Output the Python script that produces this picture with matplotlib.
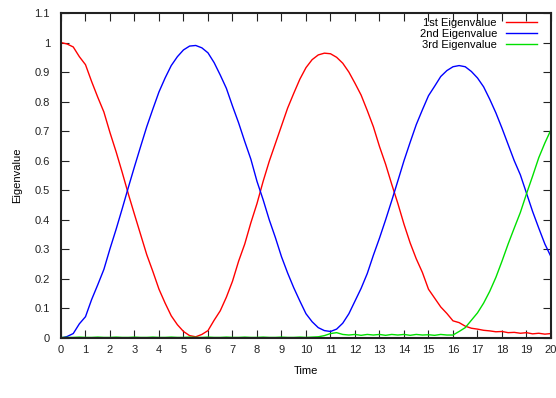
import matplotlib
matplotlib.use("Agg")
import matplotlib.pyplot as plt
import numpy as np

plt.rcParams['font.family'] = ['Liberation Sans', 'DejaVu Sans']

# sample times, 0.25 apart
time = np.arange(0, 20.01, 0.25)

ev1 = [1.000, 0.995, 0.985, 0.952, 0.925, 0.868, 0.815, 0.765, 0.695, 0.630,
       0.560, 0.487, 0.418, 0.350, 0.282, 0.225, 0.165, 0.118, 0.075, 0.045,
       0.022, 0.008, 0.004, 0.012, 0.025, 0.060, 0.092, 0.138, 0.192, 0.260,
       0.318, 0.390, 0.455, 0.530, 0.598, 0.658, 0.718, 0.778, 0.828, 0.876,
       0.915, 0.942, 0.958, 0.964, 0.962, 0.950, 0.930, 0.900, 0.862, 0.822,
       0.770, 0.715, 0.648, 0.588, 0.520, 0.455, 0.385, 0.322, 0.268, 0.222,
       0.165, 0.135, 0.105, 0.083, 0.058, 0.052, 0.040, 0.033, 0.030, 0.026,
       0.024, 0.021, 0.022, 0.018, 0.019, 0.016, 0.018, 0.014, 0.016, 0.013,
       0.015]

ev2 = [0.000, 0.005, 0.015, 0.048, 0.072, 0.130, 0.180, 0.232, 0.302, 0.368,
       0.438, 0.510, 0.580, 0.648, 0.715, 0.775, 0.833, 0.880, 0.922, 0.952,
       0.975, 0.988, 0.990, 0.982, 0.965, 0.932, 0.890, 0.845, 0.785, 0.728,
       0.665, 0.605, 0.530, 0.468, 0.400, 0.340, 0.275, 0.220, 0.170, 0.125,
       0.082, 0.055, 0.035, 0.025, 0.022, 0.030, 0.050, 0.082, 0.125, 0.168,
       0.218, 0.280, 0.338, 0.400, 0.465, 0.532, 0.600, 0.662, 0.722, 0.772,
       0.820, 0.852, 0.885, 0.905, 0.918, 0.922, 0.918, 0.902, 0.880, 0.850,
       0.808, 0.762, 0.710, 0.655, 0.600, 0.552, 0.490, 0.428, 0.372, 0.318,
       0.275]

ev3 = [0.002, 0.002, 0.002, 0.003, 0.002, 0.002, 0.003, 0.002, 0.002, 0.003,
       0.002, 0.002, 0.003, 0.002, 0.002, 0.003, 0.002, 0.002, 0.003, 0.002,
       0.002, 0.003, 0.002, 0.002, 0.003, 0.002, 0.002, 0.003, 0.002, 0.002,
       0.003, 0.002, 0.002, 0.003, 0.002, 0.002, 0.003, 0.002, 0.002, 0.003,
       0.002, 0.003, 0.004, 0.008, 0.015, 0.018, 0.012, 0.010, 0.012, 0.009,
       0.012, 0.010, 0.012, 0.009, 0.012, 0.010, 0.012, 0.009, 0.012, 0.010,
       0.011, 0.009, 0.012, 0.010, 0.010, 0.022, 0.035, 0.060, 0.085, 0.118,
       0.158, 0.205, 0.260, 0.318, 0.372, 0.425, 0.488, 0.548, 0.610, 0.660,
       0.705]

labels = ['1st Eigenvalue', '2nd Eigenvalue', '3rd Eigenvalue']
colors = ['#ff0000', '#0000ff', '#00e000']

fig = plt.figure(figsize=(5.56, 3.98), dpi=100)
ax = fig.add_axes([0.1097, 0.1508, 0.8813, 0.8166])

for vals, lab, col in zip([ev1, ev2, ev3], labels, colors):
    ax.plot(time, vals, color=col, lw=1.0, label=lab)

ax.set_xlim(0, 20)
ax.set_ylim(0, 1.1)
ax.set_xticks(range(0, 21))
yt = np.arange(0, 1.101, 0.1)
ax.set_yticks(yt)
ax.set_yticklabels(['%g' % round(v, 1) for v in yt])
ax.tick_params(direction='in', length=6, width=0.8, top=True, right=True,
               labelsize=8, colors='#222222')
ax.tick_params(axis='x', pad=5)
ax.tick_params(axis='y', pad=8)
for sp in ax.spines.values():
    sp.set_linewidth(1.5)
    sp.set_color('#222222')

ax.set_xlabel('Time', fontsize=8, labelpad=8)
ax.set_ylabel('Eigenvalue', fontsize=8, labelpad=9)

ax.legend(loc='upper right', bbox_to_anchor=(0.985, 1.005), frameon=False,
          fontsize=8, markerfirst=False, handlelength=2.8, handletextpad=0.8,
          labelspacing=0.08, borderpad=0.1)

fig.savefig('out.png', dpi=100)
